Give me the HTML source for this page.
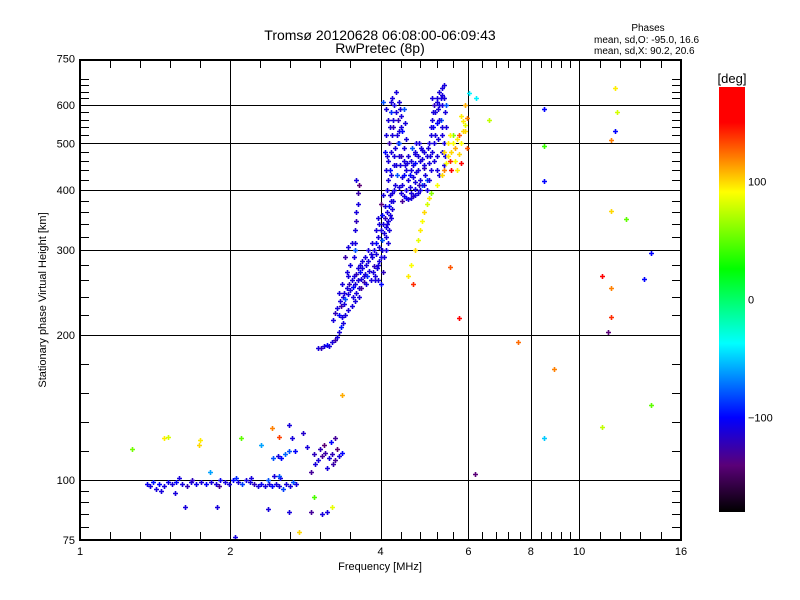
<!DOCTYPE html>
<html><head><meta charset="utf-8"><style>
html,body{margin:0;padding:0;background:#fff;}
svg{display:block;font-family:"Liberation Sans",sans-serif;}
</style></head><body>
<svg id="chart" width="800" height="600" viewBox="0 0 800 600" xmlns="http://www.w3.org/2000/svg">
<rect x="0" y="0" width="800" height="600" fill="#fff"/>
<text x="380" y="40" font-size="14" text-anchor="middle">Tromsø 20120628 06:08:00-06:09:43</text>
<text x="380" y="53" font-size="14" text-anchor="middle">RwPretec (8p)</text>
<text x="648" y="31" font-size="10" text-anchor="middle">Phases</text>
<text x="594" y="43" font-size="10">mean, sd,O: -95.0, 16.6</text>
<text x="594" y="54" font-size="10">mean, sd,X:  90.2, 20.6</text>
<g id="grid"></g>
<g id="ticks"></g>
<g id="marks"></g>
<rect x="80" y="60" width="601" height="480" fill="none" stroke="#000" stroke-width="2"/>
<g id="labels"></g>
<text x="380" y="570" font-size="11" text-anchor="middle">Frequency [MHz]</text>
<text x="46" y="300" font-size="11" text-anchor="middle" transform="rotate(-90 46 300)">Stationary phase Virtual Height [km]</text>
<defs><linearGradient id="cmap" x1="0" y1="1" x2="0" y2="0">
<stop offset="0" stop-color="#000"/>
<stop offset="0.11" stop-color="#5a0078"/>
<stop offset="0.222" stop-color="#0000ff"/>
<stop offset="0.397" stop-color="#00ffff"/>
<stop offset="0.572" stop-color="#00ff00"/>
<stop offset="0.753" stop-color="#ffff00"/>
<stop offset="0.833" stop-color="#ff8000"/>
<stop offset="0.917" stop-color="#ff0000"/>
<stop offset="1" stop-color="#ff0000"/>
</linearGradient></defs>
<rect x="719" y="87" width="26" height="425" fill="url(#cmap)"/>
<text x="732" y="83" font-size="13" text-anchor="middle">[deg]</text>
<g id="cbticks"></g>
</svg>
<script>
// ---- data ----
const xMajor = [1, 2, 4, 6, 8, 10, 16];
const xMinor = [1.149,1.32,1.516,1.741,2.297,2.639,3.031,3.482,4.4,4.8,5.2,5.6,6.4,6.8,7.2,7.6,8.4,8.8,9.2,9.6,10.99,12.07,13.26,14.57];
const yMajor = [75, 100, 200, 300, 400, 500, 600, 750];
const yGrid = [100, 200, 300, 400, 500, 600];
const yMinor = [80,85,90,95,114.9,132,151.6,174.1,220,240,260,280,320,340,360,380,420,440,460,480,520,540,560,580,620,640,660,680];
const cbTicks = [100, 0, -100];
// [freq MHz, height km, phase deg]
const eLayer = [[1.36,98,-105],[1.38,97,-110],[1.40,99,-95],[1.42,96,-110],[1.44,98,-100],[1.47,97,-110],[1.50,99,-105],[1.53,98,-110],[1.56,99,-100],[1.60,98,-110],[1.64,97,-120],[1.67,99,-110],[1.71,98,-105],[1.75,99,-110],[1.79,98,-100],[1.83,99,-110],[1.87,98,-110],[1.91,100,-105],[1.95,99,-110],[1.99,98,-110],[2.03,100,-100],[2.07,99,-110],[2.11,98,-85],[2.15,100,-110],[2.19,99,-110],[2.23,98,-120],[2.27,97,-110],[2.31,98,-105],[2.35,97,-110],[2.39,98,-110],[2.43,97,-100],[2.47,98,-110],[2.51,97,-110],[2.55,96,-85],[2.59,98,-110],[2.63,97,-110],[2.67,99,-80],[2.71,98,-110],[1.45,95,-110],[1.58,101,-110],[1.68,100,-120],[2.05,101,-90],[2.2,101,-110],[2.38,100,-80],[2.52,101,-110],[1.55,94,-110],[1.9,97,-130],[2.45,102,-110],[2.5,102,-80]];
const esLayer = [[2.44,111,-80],[2.49,112,-110],[2.53,111,-100],[2.58,113,-75],[2.62,115,-80],[2.70,115,-100],[2.85,117,-110],[2.95,113,-120],[3.0,110,-110],[3.05,112,-130],[3.1,114,-125],[3.15,111,-110],[3.2,113,-120],[3.25,110,-130],[3.3,112,-110],[3.08,118,-140],[3.18,120,-100],[3.25,122,-130],[2.96,108,-110],[3.35,114,-100],[2.8,125,-115],[2.9,104,-130],[3.12,106,-110],[3.28,116,-140],[2.66,122,-110],[3.22,108,-125],[3.02,116,-120]];
const scatterLow = [[1.27,116,55],[1.47,122,95],[1.50,123,80],[1.74,121,95],[1.73,118,100],[2.1,122,50],[2.43,128,120],[2.5,123,135],[2.3,118,-60],[1.62,88,-110],[1.88,88,-110],[2.38,87,-110],[2.62,86,-110],[2.9,86,-130],[3.05,85,-110],[3.13,86,-110],[3.2,88,85],[2.75,78,100],[2.04,76,-110],[2.95,92,45],[3.35,150,110],[2.62,130,-110],[1.82,104,-60]];
const fLower = [[3.0,188,-110],[3.04,188,-120],[3.08,190,-110],[3.12,191,-100],[3.16,190,-110],[3.2,193,-110],[3.24,195,-125],[3.27,198,-110],[3.3,203,-110],[3.33,208,-95],[3.36,212,-110],[3.22,215,-110],[3.25,222,-120],[3.28,228,-110],[3.3,220,-100],[3.32,235,-110],[3.34,230,-125],[3.36,240,-110],[3.38,245,-110],[3.4,238,-80],[3.42,250,-110],[3.44,243,-110],[3.46,255,-120],[3.48,248,-110],[3.5,260,-110],[3.52,252,-100],[3.54,265,-110],[3.56,255,-110],[3.58,268,-120],[3.6,260,-110],[3.62,250,-110],[3.64,270,-100],[3.66,262,-110],[3.68,275,-110],[3.7,258,-125],[3.72,268,-110],[3.74,280,-110],[3.76,265,-90],[3.78,285,-110],[3.8,272,-110],[3.82,260,-110],[3.85,290,-110],[3.88,278,-120],[3.9,265,-110],[3.92,295,-110],[3.38,232,-110],[3.45,265,-110],[3.52,240,-110],[3.58,245,-110],[3.66,250,-130],[3.74,255,-110],[3.3,245,-110],[3.35,255,-110],[3.42,270,-110],[3.48,280,-110],[3.54,290,-110],[3.4,290,-125],[3.45,305,-110],[3.5,310,-110],[3.56,300,-80],[3.55,330,-110],[3.57,345,-120],[3.58,360,-110],[3.6,375,-110],[3.6,395,-125],[3.62,410,-140],[3.58,420,-110],[3.55,310,-110]];
const fColumn = [[3.88,300,-110],[3.92,310,-100],[3.95,320,-110],[3.98,305,-110],[4.0,330,-110],[4.02,315,-80],[4.04,340,-110],[4.06,325,-110],[4.08,350,-120],[4.1,335,-110],[4.12,360,-110],[4.14,345,-110],[4.16,370,-100],[4.18,355,-110],[4.2,380,-110],[3.96,280,-110],[4.0,290,-110],[4.05,270,-120],[4.1,300,-110],[3.9,260,-110],[4.0,255,-100],[4.15,310,-110],[4.22,395,-110],[3.95,350,-110],[4.0,375,-140],[4.05,390,-110],[3.95,260,-110],[3.98,285,-110],[4.02,300,-110],[4.06,290,-110],[4.1,320,-110],[4.12,340,-110],[4.16,330,-110],[4.2,350,-110],[4.22,365,-110],[4.24,380,-110],[4.08,370,-110],[4.03,355,-100],[3.98,340,-110],[3.92,330,-110],[3.85,310,-110],[3.82,295,-110],[3.78,300,-110],[3.72,290,-110],[3.68,285,-110],[3.64,280,-110],[3.6,275,-110],[3.7,265,-110],[3.62,240,-110],[3.56,235,-110],[3.5,230,-110],[3.45,225,-110],[3.4,220,-110],[3.35,218,-110],[3.86,270,-110],[3.94,275,-110]];
const f2Layer = [[4.12,400,-110],[4.15,420,-110],[4.18,440,-100],[4.14,460,-110],[4.2,480,-110],[4.16,500,-125],[4.22,520,-110],[4.18,540,-110],[4.24,560,-110],[4.2,580,-90],[4.26,600,-110],[4.22,620,-110],[4.3,640,-110],[4.28,410,-110],[4.32,430,-80],[4.3,450,-110],[4.35,470,-110],[4.33,500,-110],[4.36,530,-110],[4.34,560,-120],[4.38,590,-110],[4.1,590,-110],[4.05,610,-80],[4.4,395,-110],[4.45,388,-110],[4.5,385,-100],[4.55,383,-110],[4.6,385,-110],[4.65,388,-120],[4.7,390,-110],[4.75,395,-110],[4.8,400,-110],[4.85,410,-80],[4.5,400,-110],[4.6,395,-110],[4.7,402,-110],[4.42,380,-130],[4.42,425,-110],[4.5,440,-110],[4.58,430,-100],[4.65,450,-110],[4.72,435,-110],[4.8,460,-110],[4.88,445,-120],[4.95,470,-110],[4.55,470,-110],[4.62,490,-80],[4.7,475,-110],[4.78,500,-110],[4.85,485,-110],[4.92,430,-110],[5.0,455,-110],[4.45,460,-110],[4.68,415,-110],[5.0,500,-110],[5.05,520,-110],[5.1,540,-100],[5.08,560,-110],[5.15,580,-110],[5.12,600,-120],[5.2,620,-110],[5.25,640,-110],[5.3,650,-110],[5.3,600,-110],[5.28,560,-80],[5.32,520,-110],[5.3,480,-110],[5.35,450,-110],[5.25,430,-110],[5.2,470,-110],[5.22,510,-110],[5.35,620,-110],[5.38,580,-110],[5.18,440,-110]];
const f2Extra = [[4.42,410,-110],[4.45,430,-100],[4.48,450,-110],[4.4,470,-120],[4.46,490,-110],[4.5,510,-110],[4.42,530,-100],[4.48,550,-110],[4.4,570,-110],[4.45,590,-80],[4.12,470,-110],[4.25,450,-110],[4.2,430,-110],[4.28,490,-110],[4.24,540,-120],[4.3,580,-110],[4.35,610,-110],[4.2,610,-110],[4.15,560,-110],[4.1,520,-110],[4.08,480,-100],[4.1,440,-110],[4.38,450,-110],[4.36,500,-80],[4.4,540,-110],[4.32,520,-110],[4.26,470,-110],[4.18,390,-110],[4.25,400,-110],[4.35,405,-110],[4.55,420,-110],[4.6,440,-110],[4.65,425,-110],[4.7,455,-100],[4.75,440,-110],[4.8,420,-110],[4.85,465,-110],[4.9,450,-110],[4.95,420,-80],[4.6,460,-110],[4.68,480,-110],[4.75,470,-110],[4.82,490,-110],[4.9,480,-110],[4.98,490,-110],[4.88,410,-110],[4.95,400,-110],[5.0,420,-110],[4.58,405,-110],[4.78,410,-120],[4.52,455,-110],[4.72,500,-110],[5.02,470,-110],[5.08,480,-110],[5.12,500,-110],[5.05,540,-110],[5.15,520,-110],[5.18,550,-100],[5.1,580,-110],[5.22,590,-110],[5.25,560,-110],[5.18,610,-110],[5.28,620,-110],[5.32,630,-110],[5.35,660,-110],[5.25,600,-110],[5.3,540,-110],[5.35,500,-110],[5.38,470,-110],[5.4,540,-110],[5.4,600,-80],[5.12,460,-110],[5.05,440,-110],[5.08,620,-110]];
const xMode = [[4.55,265,95],[4.6,280,90],[4.7,300,100],[4.75,315,85],[4.8,330,95],[4.85,345,90],[4.9,360,100],[4.95,375,80],[5.0,385,95],[5.05,395,60],[5.2,410,90],[5.3,430,100],[5.35,440,120],[5.4,455,90],[5.45,470,95],[5.5,460,140],[5.55,480,100],[5.6,500,90],[5.65,490,110],[5.7,510,95],[5.75,520,130],[5.8,500,90],[5.85,530,100],[5.9,545,85],[5.45,500,95],[5.55,440,150],[5.65,460,90],[5.75,475,100],[5.85,555,95],[5.95,565,120],[5.6,520,60],[5.8,570,95],[5.95,490,130],[4.65,255,140],[5.35,480,100],[5.5,520,90],[5.92,530,100],[5.7,440,95],[5.9,600,110],[5.8,455,150]];
const scatterHigh = [[6.02,636,-40],[6.22,620,-40],[6.6,559,75],[8.5,590,-100],[8.5,493,40],[8.5,418,-100],[11.8,650,95],[11.9,580,80],[11.8,530,-100],[11.6,508,120],[11.6,362,100],[12.4,348,50],[13.9,296,-100],[5.5,277,130],[11.1,265,150],[13.5,262,-100],[11.6,250,120],[5.75,217,150],[11.6,218,140],[11.4,203,-140],[7.55,193,125],[8.9,170,120],[13.9,143,50],[11.1,129,75],[8.5,122,-50],[6.2,103,-140]];
const allSeries = [eLayer, esLayer, scatterLow, fLower, fColumn, f2Layer, f2Extra, xMode, scatterHigh];

// ---- axes ----
const X0 = 80, PXO = 150.25, Y100 = 480, PYO = 145;
function xScale(f){ return X0 + PXO*Math.log2(f); }
function yScale(h){ return Y100 - PYO*Math.log2(h/100); }
function cbScale(p){ return 299.5 - (p/180)*212.5; }
const stops = [[-180,[0,0,0]],[-140,[90,0,120]],[-100,[0,0,255]],[-37,[0,255,255]],[26,[0,255,0]],[91,[255,255,0]],[120,[255,128,0]],[150,[255,0,0]],[180,[255,0,0]]];
function color(p){
  for(let i=0;i<stops.length-1;i++){
    const a=stops[i], b=stops[i+1];
    if(p<=b[0]){ const t=Math.max(0,(p-a[0])/(b[0]-a[0])); const c=a[1].map((v,k)=>Math.round(v+(b[1][k]-v)*t)); return 'rgb('+c.join(',')+')'; }
  }
  return 'rgb(255,0,0)';
}
const NS='http://www.w3.org/2000/svg';
function mk(tag, attrs, parent){ const e=document.createElementNS(NS,tag); for(const k in attrs) e.setAttribute(k,attrs[k]); parent.appendChild(e); return e; }
const grid=document.getElementById('grid'), ticks=document.getElementById('ticks'), labels=document.getElementById('labels'), marks=document.getElementById('marks'), cbt=document.getElementById('cbticks');

xMajor.forEach(v=>{
  const x=Math.round(xScale(v))+0.5;
  if(v>1 && v<16){
    const l=mk('line',{x1:x,y1:60,x2:x,y2:540,stroke:'#000','stroke-width':1},grid);
    
    
  }
  const t=mk('text',{x:xScale(v),y:555,'font-size':11,'text-anchor':'middle'},labels);
  t.textContent=v;
  
  
});
yGrid.forEach(v=>{
  const y=Math.round(yScale(v))+0.5;
  const l=mk('line',{x1:80,y1:y,x2:681,y2:y,stroke:'#000','stroke-width':1},grid);
  
  
});
yMajor.forEach(v=>{
  const t=mk('text',{x:75,y:yScale(v)+4,'font-size':11,'text-anchor':'end'},labels);
  t.textContent=v;
  
  
});
xMinor.forEach(v=>{
  const x=Math.round(xScale(v))+0.5;
  const a=mk('line',{x1:x,y1:60,x2:x,y2:68,stroke:'#000'},ticks);
  
  
  const b=mk('line',{x1:x,y1:532,x2:x,y2:540,stroke:'#000'},ticks);
  
  
});
yMinor.forEach(v=>{
  const y=Math.round(yScale(v))+0.5;
  const a=mk('line',{x1:80,y1:y,x2:89,y2:y,stroke:'#000'},ticks);
  
  
  const b=mk('line',{x1:672,y1:y,x2:681,y2:y,stroke:'#000'},ticks);
  
  
});
cbTicks.forEach(v=>{
  const t=mk('text',{x:748,y:cbScale(v)+4,'font-size':11},cbt);
  t.textContent=(v<0?'\u2212'+(-v):v);
  
  
});
allSeries.forEach(series=>{
  series.forEach(d=>{
    const x=Math.round(xScale(d[0])), y=Math.round(yScale(d[1]));
    const p=mk('path',{d:'M'+(x-2)+' '+(y+0.5)+'h5M'+(x+0.5)+' '+(y-2)+'v5',stroke:color(d[2]),'stroke-width':1.6,fill:'none'},marks);
    
    
  });
});
</script>
</body></html>
